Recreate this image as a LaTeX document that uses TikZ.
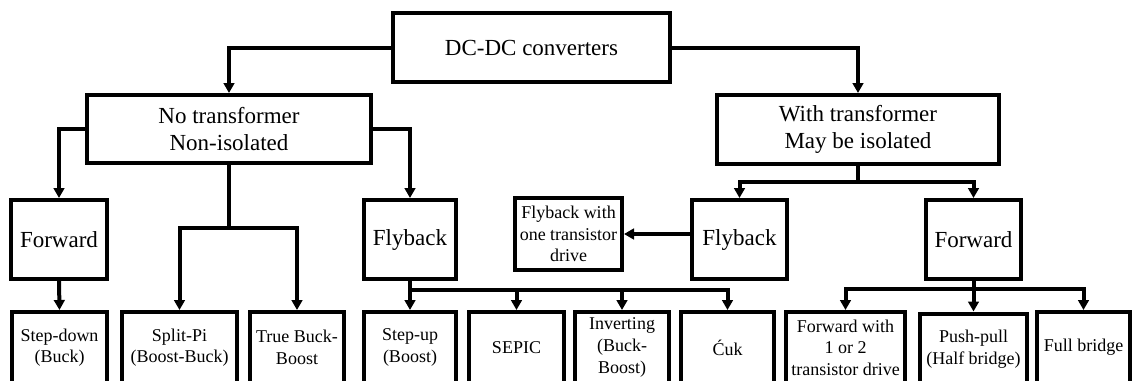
\documentclass[tikz,border=0pt]{standalone}
\usepackage{fontspec}
\setmainfont{Liberation Serif}
\usetikzlibrary{arrows.meta}
\begin{document}
\begin{tikzpicture}[x=0.75pt,y=-0.75pt,
  box/.style={draw=black, line width=3pt, fill=white, inner sep=0pt, align=center},
  big/.style={font=\fontsize{17.25}{20.25}\selectfont},
  small/.style={font=\fontsize{13.5}{16.2}\selectfont},
  conn/.style={line width=3pt, line join=miter},
  arr/.style={conn, -{Triangle[length=7.5pt,width=8pt]}}]
\useasboundingbox (0,0) rectangle (1133,380);
\clip (0,0) rectangle (1133,380);
\fill[white] (0,0) rectangle (1133,380);
% level 0
\node[box,big,minimum width=207.75pt,minimum height=51.75pt] (top) at (531.5,47.5) {DC-DC converters};
% level 1
\node[box,big,minimum width=213pt,minimum height=51pt] (nt) at (229,129) {No transformer\\Non-isolated};
\node[box,big,minimum width=211.5pt,minimum height=51.75pt] (wt) at (858,129.5) {With transformer\\May be isolated};
% level 2
\node[box,big,minimum width=72pt,minimum height=59.25pt] (fwdL) at (59,239.5) {Forward};
\node[box,big,minimum width=69pt,minimum height=59.25pt] (flyL) at (410,239.5) {Flyback};
\node[box,small,minimum width=80.25pt,minimum height=54pt] (flyw) at (568.5,234) {Flyback with\\one transistor\\drive};
\node[box,big,minimum width=71.25pt,minimum height=59.25pt] (flyR) at (739.5,239.5) {Flyback};
\node[box,big,minimum width=71.25pt,minimum height=59.25pt] (fwdR) at (973.5,239.5) {Forward};
% level 3
\node[box,small,minimum width=71.25pt,minimum height=53.25pt] (sd) at (59.5,347.5) {Step-down\\(Buck)};
\node[box,small,minimum width=86.25pt,minimum height=53.25pt] (sp) at (179.5,347.5) {Split-Pi\\(Boost-Buck)};
\node[box,small,minimum width=70.5pt,minimum height=53.25pt] (tbb) at (297,347.5) {True Buck-\\Boost};
\node[box,small,minimum width=69pt,minimum height=53.25pt] (su) at (410,347.5) {Step-up\\(Boost)};
\node[box,small,minimum width=71.25pt,minimum height=53.25pt] (sepic) at (516.5,347.5) {SEPIC};
\node[box,small,minimum width=70.5pt,minimum height=53.25pt] (inv) at (622,347.5) {Inverting\\(Buck-\\Boost)};
\node[box,small,minimum width=69.75pt,minimum height=53.25pt] (cuk) at (727.5,347.5) {Ćuk};
\node[box,small,minimum width=89.25pt,minimum height=53.25pt] (fw12) at (845.5,347.5) {Forward with\\1 or 2\\transistor drive};
\node[box,small,minimum width=80.25pt,minimum height=53.25pt] (pp) at (973.5,349) {Push-pull\\(Half bridge)};
\node[box,small,minimum width=69.75pt,minimum height=53.25pt] (fb) at (1083.5,347.5) {Full bridge};
% junctions
\coordinate (j1) at (229,228);
\coordinate (j2) at (410,290);
\coordinate (j3) at (858,182);
\coordinate (j4) at (973.5,289);
% connectors
\draw[arr] (top.west) -| (nt.north);
\draw[arr] (top.east) -| (wt.north);
\draw[arr] (nt.west) -| (fwdL.north);
\draw[arr] (nt.east) -| (flyL.north);
\draw[conn] (nt.south) -- (j1);
\draw[arr] (j1) -| (sp.north);
\draw[arr] (j1) -| (tbb.north);
\draw[arr] (fwdL.south) -- (sd.north);
\draw[conn] (flyL.south) -- (j2);
\draw[arr] (j2) -- (su.north);
\draw[arr] (j2) -| (sepic.north);
\draw[arr] (j2) -| (inv.north);
\draw[arr] (j2) -| (cuk.north);
\draw[conn] (wt.south) -- (j3);
\draw[arr] (j3) -| (flyR.north);
\draw[arr] (j3) -| (fwdR.north);
\draw[arr] (flyR.west |- flyw.east) -- (flyw.east);
\draw[conn] (fwdR.south) -- (j4);
\draw[arr] (j4) -- (pp.north);
\draw[arr] (j4) -| (fw12.north);
\draw[arr] (j4) -| (fb.north);
\end{tikzpicture}
\end{document}
